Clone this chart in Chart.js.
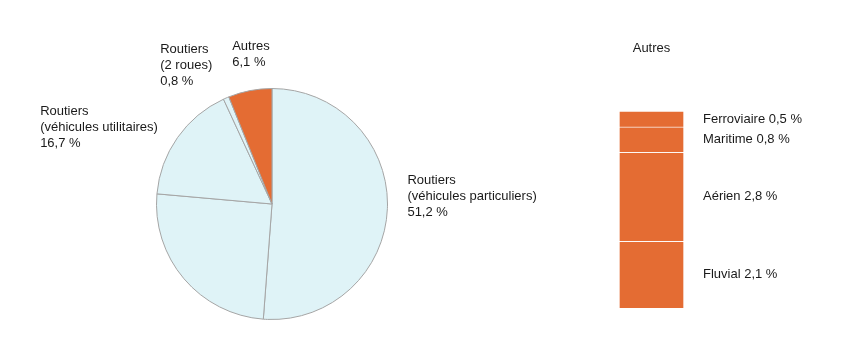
<!DOCTYPE html>
<html>
<head>
<meta charset="utf-8">
<script src="https://cdn.jsdelivr.net/npm/chart.js@4"></script>
<style>
  html, body { margin: 0; padding: 0; background: #fff; }
  #wrap { position: relative; width: 850px; height: 358px; }
  #pieBox { position: absolute; left: 0; top: 0; width: 560px; height: 358px; }
  #barBox { position: absolute; left: 560px; top: 0; width: 290px; height: 358px; }
</style>
</head>
<body>
<div id="wrap">
  <div id="pieBox"><canvas id="pieChart"></canvas></div>
  <div id="barBox"><canvas id="barChart"></canvas></div>
</div>
<script>
// parts du total (en %)
const pieLabels = [
  ['Routiers', '(véhicules particuliers)', '51,2 %'],
  [],
  ['Routiers', '(véhicules utilitaires)', '16,7 %'],
  ['Routiers', '(2 roues)', '0,8 %'],
  ['Autres', '6,1 %']
];
const pieValues = [51.2, 25.2, 16.7, 0.8, 6.1];
const pieColors = ['#dff3f7', '#dff3f7', '#dff3f7', '#dff3f7', '#e46c33'];

// détail "Autres", du haut vers le bas
const autresLabels = ['Ferroviaire 0,5 %', 'Maritime 0,8 %', 'Aérien 2,8 %', 'Fluvial 2,1 %'];
const autresValues = [0.5, 0.8, 2.8, 2.1];

const FONT = '13px "Liberation Sans", Arial, sans-serif';
const TXT = '#1a1a1a';

// placement des étiquettes autour du camembert
const pieLabelPos = [
  { gap: 18, align: 'left', dx: 2, dy: -13 },
  null,
  { gap: 20, align: 'left', dx: -121, dy: 1 },
  { gap: 20, align: 'left', dx: -58, dy: -14 },
  { gap: 20, align: 'left', dx: -14, dy: -17 }
];

const pieLabelPlugin = {
  id: 'pieLabelPlugin',
  afterDraw(chart) {
    const ctx = chart.ctx;
    const arcs = chart.getDatasetMeta(0).data;
    ctx.save();
    ctx.font = FONT;
    ctx.fillStyle = TXT;
    ctx.textBaseline = 'middle';
    arcs.forEach((arc, i) => {
      const pos = pieLabelPos[i];
      const lines = pieLabels[i];
      if (!pos || !lines.length) return;
      const mid = (arc.startAngle + arc.endAngle) / 2;
      const r = arc.outerRadius + pos.gap;
      const x = arc.x + Math.cos(mid) * r + pos.dx;
      const y = arc.y + Math.sin(mid) * r + pos.dy;
      ctx.textAlign = pos.align;
      const lh = 16;
      const top = y - (lines.length - 1) * lh / 2;
      lines.forEach((l, k) => ctx.fillText(l, x, top + k * lh));
    });
    ctx.restore();
  }
};

new Chart(document.getElementById('pieChart'), {
  type: 'pie',
  data: {
    labels: pieLabels.map(l => l.join(' ')),
    datasets: [{
      data: pieValues,
      backgroundColor: pieColors,
      borderColor: '#a5a5a5',
      borderWidth: 1
    }]
  },
  options: {
    responsive: true,
    maintainAspectRatio: false,
    animation: false,
    layout: { padding: { left: 156, right: 172, top: 88, bottom: 38 } },
    plugins: { legend: { display: false }, tooltip: { enabled: false } }
  },
  plugins: [pieLabelPlugin]
});

const barLabelPlugin = {
  id: 'barLabelPlugin',
  afterDraw(chart) {
    const ctx = chart.ctx;
    const area = chart.chartArea;
    ctx.save();
    ctx.font = FONT;
    ctx.fillStyle = TXT;
    ctx.textBaseline = 'middle';
    ctx.textAlign = 'center';
    ctx.fillText('Autres', (area.left + area.right) / 2, 48);
    ctx.textAlign = 'left';
    chart.data.datasets.forEach((ds, i) => {
      const bar = chart.getDatasetMeta(i).data[0];
      const yMid = (bar.y + bar.base) / 2;
      ctx.fillText(ds.label, area.right + 19, yMid);
    });
    ctx.restore();
  }
};

// empilement du bas vers le haut
const stackOrder = autresLabels.map((l, i) => i).reverse();

new Chart(document.getElementById('barChart'), {
  type: 'bar',
  data: {
    labels: ['Autres'],
    datasets: stackOrder.map(i => ({
      label: autresLabels[i],
      data: [autresValues[i]],
      backgroundColor: '#e46c33',
      borderColor: 'rgba(255,255,255,0.75)',
      borderWidth: 1,
      barPercentage: 1,
      categoryPercentage: 1
    }))
  },
  options: {
    responsive: true,
    maintainAspectRatio: false,
    animation: false,
    layout: { padding: { left: 59, right: 166, top: 111, bottom: 50 } },
    scales: {
      x: { stacked: true, display: false },
      y: { stacked: true, display: false, min: 0, max: 6.2 }
    },
    plugins: { legend: { display: false }, tooltip: { enabled: false } }
  },
  plugins: [barLabelPlugin]
});
</script>
</body>
</html>
